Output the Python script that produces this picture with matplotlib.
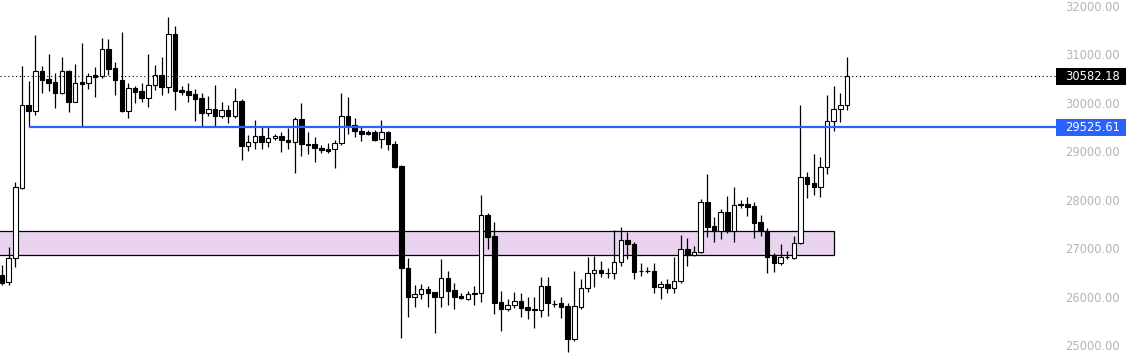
import matplotlib
matplotlib.use("Agg")
import matplotlib.pyplot as plt
from matplotlib.patches import Rectangle
import numpy as np

# OHLC values (one entry per candle, left to right)
opens = [26480, 26335, 26830, 28273, 29985, 29861, 30686, 30521, 30459, 30232,
         30686, 30047, 30459, 30439, 30603, 30583, 31140, 30748, 30500, 29861,
         30335, 30274, 30129, 30397, 30603, 30356, 31449, 30294, 30274, 30212,
         30129, 29820, 29902, 29758, 29882, 29758, 30067, 29139, 29222, 29346,
         29222, 29304, 29346, 29263, 29222, 29696, 29181, 29181, 29098, 29078,
         29078, 29201, 29758, 29573, 29449, 29428, 29428, 29284, 29428, 29181,
         28727, 26624, 26026, 26088, 26191, 26129, 26026, 26418, 26170, 26047,
         25985, 26088, 26108, 27717, 27283, 25923, 25778, 25861, 25943, 25820,
         25768, 25758, 26253, 25890, 25902, 25840, 25160, 25820, 26211, 26521,
         26583, 26530, 26521, 26747, 27201, 27119, 26562, 26555, 26562, 26232,
         26294, 26211, 26356, 27016, 26892, 26954, 27985, 27490, 27387, 27779,
         27387, 27943, 27943, 27902, 27572, 27387, 26871, 26727, 26851, 26830,
         27140, 28500, 28376, 28294, 28707, 29655, 29902, 29985]
highs = [26686, 27057, 28397, 30789, 30480, 31428, 30789, 31037, 30645, 30975,
         30707, 30830, 31263, 30645, 30768, 31366, 31346, 30872, 31490, 30439,
         30377, 30439, 31037, 30810, 30975, 31799, 31614, 30377, 30439, 30315,
         30232, 30170, 30397, 30047, 29985, 30335, 30109, 29366, 29676, 29552,
         29531, 29387, 29428, 29511, 29738, 30026, 29428, 29325, 29160, 29201,
         29263, 30232, 30150, 29717, 29552, 29469, 29469, 29676, 29449, 29243,
         28748, 26830, 26273, 26294, 26253, 26135, 26809, 26562, 26315, 26108,
         26150, 26253, 28129, 27758, 27572, 26150, 25985, 26129, 26108, 26026,
         26026, 26438, 26438, 25964, 26026, 25902, 26562, 26397, 26851, 26871,
         26768, 26624, 27407, 27469, 27366, 27160, 26727, 26644, 26727, 26356,
         26397, 26851, 27304, 27242, 27078, 28047, 28562, 27676, 27840, 28109,
         28294, 28026, 28088, 27985, 27717, 27449, 26933, 27119, 26974, 27284,
         29985, 28603, 28975, 28913, 30191, 30377, 30232, 30975]
lows = [26273, 26273, 26644, 28250, 29525, 29779, 30232, 30274, 29923, 30212,
        29841, 30040, 29525, 30315, 30150, 30542, 30603, 30191, 29850, 29717,
        30026, 30047, 29944, 30294, 30191, 30232, 29882, 30191, 30047, 29655,
        29530, 29758, 29552, 29717, 29614, 29717, 28851, 29036, 29078, 29078,
        29119, 29263, 29016, 29078, 28583, 28933, 28975, 28810, 28995, 28995,
        28686, 29160, 29387, 29325, 29243, 29366, 29250, 29098, 29057, 28686,
        25180, 25613, 25820, 25985, 25820, 25284, 25820, 25861, 25778, 25985,
        25964, 25861, 25923, 27016, 25675, 25325, 25737, 25799, 25613, 25572,
        25387, 25613, 25634, 25820, 25593, 24892, 25119, 25778, 26129, 26232,
        26438, 26418, 26397, 26665, 26809, 26397, 26459, 26521, 26108, 25985,
        26108, 26108, 26315, 26665, 26880, 26940, 27263, 27160, 27222, 27346,
        27160, 27861, 27696, 27242, 27284, 26521, 26541, 26686, 26809, 26809,
        27120, 28067, 28129, 28088, 28562, 29449, 29634, 29882]
closes = [26315, 26830, 28294, 29985, 29861, 30686, 30500, 30439, 30232, 30686,
          30047, 30439, 30418, 30583, 30562, 31140, 30727, 30500, 29861, 30335,
          30253, 30129, 30397, 30603, 30356, 31449, 30274, 30253, 30191, 30109,
          29820, 29902, 29758, 29882, 29758, 30067, 29139, 29222, 29346, 29222,
          29304, 29346, 29263, 29222, 29696, 29181, 29170, 29098, 29057, 29036,
          29201, 29758, 29573, 29449, 29387, 29387, 29263, 29428, 29181, 28707,
          26624, 26026, 26088, 26191, 26108, 26026, 26418, 26150, 26026, 26005,
          26088, 26108, 27717, 27263, 25902, 25778, 25861, 25943, 25799, 25758,
          25758, 26253, 25902, 25882, 25820, 25160, 25840, 26211, 26521, 26583,
          26521, 26521, 26747, 27201, 27119, 26541, 26555, 26562, 26232, 26294,
          26211, 26356, 27016, 26892, 26954, 27985, 27469, 27387, 27779, 27387,
          27923, 27923, 27882, 27552, 27387, 26851, 26727, 26851, 26860, 27140,
          28500, 28356, 28294, 28707, 29655, 29902, 29985, 30582.18]

y_ticks = [25000, 26000, 27000, 28000, 29000, 30000, 31000, 32000]
last_price = 30582.18
level_price = 29525.61
level_start = 4          # candle where the horizontal level starts
zone_top = 27381
zone_bottom = 26886
zone_end = 125           # candle where the zone ends

fig = plt.figure(figsize=(11.29, 3.57), dpi=100)
ax = fig.add_axes([0, 0, 1, 1])
x0, x1 = -0.3, 169.37
ax.set_xlim(x0, x1)
ax.set_ylim(24788, 32150)
ax.axis('off')

label_left = x0 + (1056 / 1129) * (x1 - x0)
px = (x1 - x0) / 1129  # one pixel in x data units

# demand zone
ax.add_patch(Rectangle((x0 - 2, zone_bottom), zone_end - x0 + 2, zone_top - zone_bottom,
                       facecolor='#e9d3ef', edgecolor='black', linewidth=0.9, zorder=1))

x = np.arange(len(opens))
o = np.array(opens, dtype=float)
c = np.array(closes, dtype=float)
up = c >= o

# wicks then bodies
ax.vlines(x, lows, highs, color='black', linewidth=0.9, zorder=2)
ax.bar(x, np.abs(c - o), bottom=np.minimum(o, c), width=0.68,
       color=np.where(up, 'white', 'black'), edgecolor='black', linewidth=0.8, zorder=3)

# last price dotted line and level line
ax.hlines(last_price, x0, label_left, colors='black', linewidth=0.8,
          linestyles=(0, (1, 2.5)), zorder=4)
ax.hlines(level_price, level_start, label_left, colors='#2962ff', linewidth=1.6, zorder=4)

# price scale labels
tr = ax.get_yaxis_transform()
for t in y_ticks:
    ax.text(1120 / 1129, t, f'{t:.2f}', transform=tr, ha='right', va='center',
            fontsize=8.3, color='#b2b5be')

for price, col in [(last_price, 'black'), (level_price, '#2962ff')]:
    ax.add_patch(Rectangle((1056 / 1129, price - 175), 70 / 1129, 350, transform=tr,
                           facecolor=col, edgecolor='none', zorder=5))
    ax.text(1120 / 1129, price, f'{price:.2f}', transform=tr, ha='right', va='center',
            fontsize=8.3, color='white', zorder=6)

fig.savefig('out.png', dpi=100)
